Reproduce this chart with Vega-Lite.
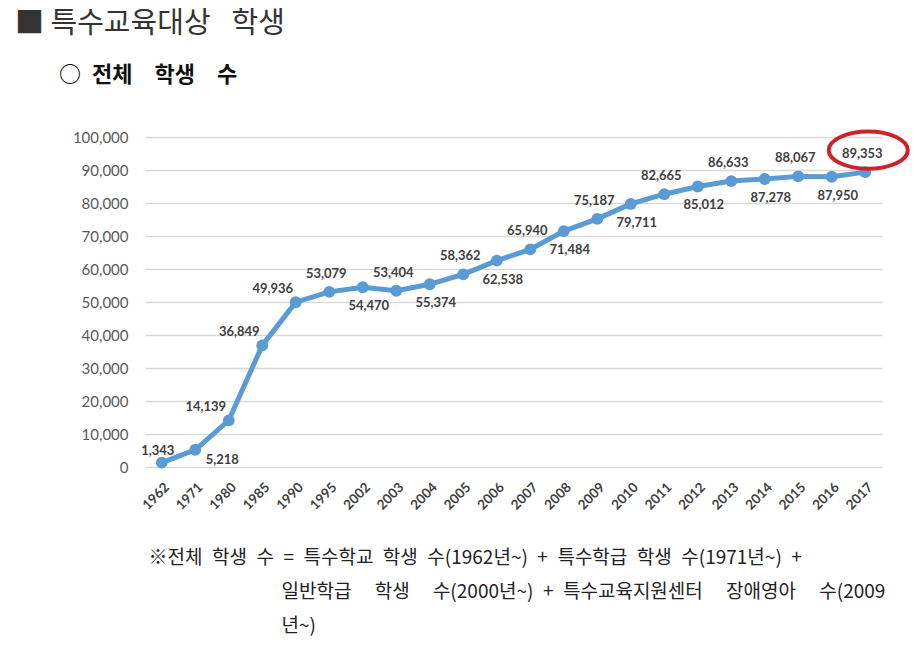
{
  "$schema": "https://vega.github.io/schema/vega-lite/v6.json",
  "width": 737,
  "height": 330,
  "autosize": {"type": "none"},
  "padding": {"left": 145, "top": 137, "right": 38, "bottom": 190},
  "background": "white",
  "config": {"view": {"stroke": null}},
  "title": {
    "text": "■ 특수교육대상\u2002\u00a0학생",
    "subtitle": "\u200b\u3000\u3000○\u2002전체\u3000학생\u3000수",
    "anchor": "start",
    "frame": "group",
    "dx": -130,
    "offset": 38,
    "font": "Noto Sans CJK KR",
    "fontSize": 29,
    "fontWeight": "normal",
    "color": "#333333",
    "subtitleFont": "Noto Sans CJK KR",
    "subtitleFontSize": 22,
    "subtitleFontWeight": "bold",
    "subtitleColor": "#111111",
    "subtitlePadding": 26
  },
  "data": {
    "values": [
      {"year": "1962", "students": 1343},
      {"year": "1971", "students": 5218},
      {"year": "1980", "students": 14139},
      {"year": "1985", "students": 36849},
      {"year": "1990", "students": 49936},
      {"year": "1995", "students": 53079},
      {"year": "2002", "students": 54470},
      {"year": "2003", "students": 53404},
      {"year": "2004", "students": 55374},
      {"year": "2005", "students": 58362},
      {"year": "2006", "students": 62538},
      {"year": "2007", "students": 65940},
      {"year": "2008", "students": 71484},
      {"year": "2009", "students": 75187},
      {"year": "2010", "students": 79711},
      {"year": "2011", "students": 82665},
      {"year": "2012", "students": 85012},
      {"year": "2013", "students": 86633},
      {"year": "2014", "students": 87278},
      {"year": "2015", "students": 88067},
      {"year": "2016", "students": 87950},
      {"year": "2017", "students": 89353}
    ]
  },
  "encoding": {
    "x": {
      "field": "year",
      "type": "ordinal",
      "sort": null,
      "scale": {"type": "point", "padding": 0.5},
      "axis": {
        "title": [
          "※전체\u2002학생\u2002수\u2002=\u2002특수학교\u2002학생\u2002수(1962년~)\u2002+\u2002특수학급\u2002학생\u2002수(1971년~)\u2002+",
          "\u200b\u3000\u3000\u3000\u3000\u3000\u3000\u3000일반학급\u3000\u00a0학생\u3000\u00a0수(2000년~)\u2002+\u2002특수교육지원센터\u3000\u00a0장애영아\u3000\u00a0수(2009",
          "\u200b\u3000\u3000\u3000\u3000\u3000\u3000\u3000년~)"
        ],
        "titleAnchor": "start",
        "titleAlign": "left",
        "titleBaseline": "top",
        "titleX": 3,
        "titleY": 81,
        "titleLineHeight": 34,
        "titleFont": "Noto Sans CJK KR",
        "titleFontSize": 19,
        "titleFontWeight": "normal",
        "titleColor": "#222222",
        "labelAngle": -45,
        "labelFont": "Lato",
        "labelFontSize": 13.5,
        "labelFontWeight": "bold",
        "labelColor": "#404040",
        "labelPadding": 13,
        "ticks": false,
        "domain": false,
        "grid": false
      }
    },
    "y": {
      "field": "students",
      "type": "quantitative",
      "scale": {"domain": [0, 100000]},
      "axis": {
        "title": null,
        "values": [0, 10000, 20000, 30000, 40000, 50000, 60000, 70000, 80000, 90000, 100000],
        "format": ",d",
        "labelFont": "Lato",
        "labelFontSize": 15,
        "labelColor": "#595959",
        "labelPadding": 17,
        "ticks": false,
        "domain": false,
        "gridColor": "#d9d9d9",
        "gridWidth": 1.5
      }
    }
  },
  "layer": [
    {"mark": {"type": "line", "color": "#5b9bd5", "strokeWidth": 5}},
    {"mark": {"type": "point", "shape": "circle", "filled": true, "opacity": 1, "color": "#5b9bd5", "size": 140}},
    {
      "transform": [{"filter": {"field": "year", "oneOf": ["1962"]}}],
      "mark": {"type": "text", "font": "Lato", "fontSize": 13, "fontWeight": "bold", "color": "#404040", "dx": -4, "dy": -12},
      "encoding": {"text": {"field": "students", "type": "quantitative", "format": ","}}
    },
    {
      "transform": [{"filter": {"field": "year", "oneOf": ["1971"]}}],
      "mark": {"type": "text", "font": "Lato", "fontSize": 13, "fontWeight": "bold", "color": "#404040", "dx": 27, "dy": 10},
      "encoding": {"text": {"field": "students", "type": "quantitative", "format": ","}}
    },
    {
      "transform": [{"filter": {"field": "year", "oneOf": ["1980", "1985", "1990"]}}],
      "mark": {"type": "text", "font": "Lato", "fontSize": 13, "fontWeight": "bold", "color": "#404040", "dx": -23, "dy": -13},
      "encoding": {"text": {"field": "students", "type": "quantitative", "format": ","}}
    },
    {
      "transform": [{"filter": {"field": "year", "oneOf": ["1995", "2003", "2005", "2007", "2009", "2011", "2013", "2015", "2017"]}}],
      "mark": {"type": "text", "font": "Lato", "fontSize": 13, "fontWeight": "bold", "color": "#404040", "dx": -3, "dy": -18},
      "encoding": {"text": {"field": "students", "type": "quantitative", "format": ","}}
    },
    {
      "transform": [{"filter": {"field": "year", "oneOf": ["2002", "2004", "2006", "2008", "2010", "2012", "2014", "2016"]}}],
      "mark": {"type": "text", "font": "Lato", "fontSize": 13, "fontWeight": "bold", "color": "#404040", "dx": 6, "dy": 19},
      "encoding": {"text": {"field": "students", "type": "quantitative", "format": ","}}
    },
    {
      "transform": [{"filter": {"field": "year", "oneOf": ["2017"]}}],
      "mark": {
        "type": "point",
        "shape": "M-1,0A1,0.47,0,1,1,1,0A1,0.47,0,1,1,-1,0Z",
        "size": 6241,
        "filled": false,
        "opacity": 1,
        "stroke": "#d0202a",
        "strokeWidth": 4,
        "xOffset": 3,
        "yOffset": -22
      }
    }
  ]
}
